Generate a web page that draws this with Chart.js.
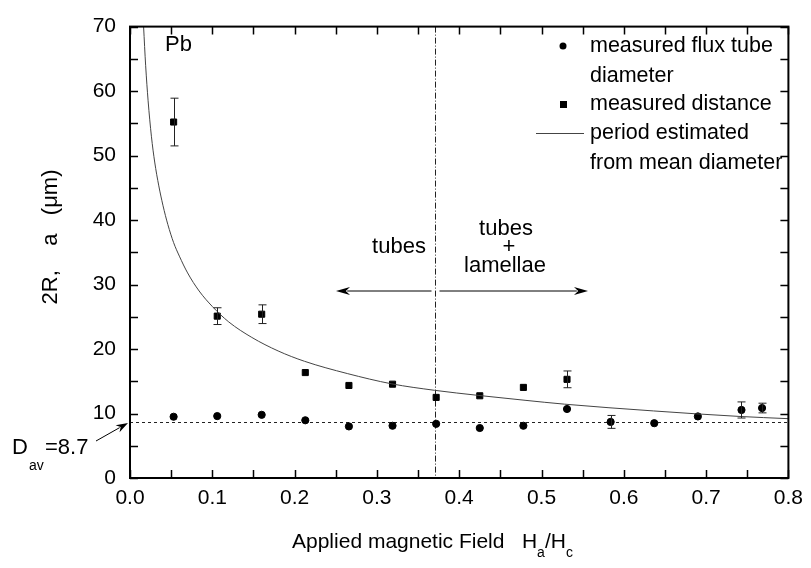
<!DOCTYPE html>
<html><head><meta charset="utf-8">
<script src="https://cdn.jsdelivr.net/npm/chart.js@4.4.0/dist/chart.umd.min.js"></script>
<style>html,body{margin:0;padding:0;background:#fff}</style>
</head><body>
<canvas id="c" width="811" height="568" style="width:811px;height:568px"></canvas>
<script>
// ---- data ----
const diamX = [0.053, 0.106, 0.160, 0.213, 0.266, 0.319, 0.372, 0.425, 0.478, 0.531, 0.584, 0.637, 0.690, 0.743, 0.768];
const diameter = [9.5, 9.6, 9.8, 8.95, 8.0, 8.1, 8.4, 7.75, 8.1, 10.7, 8.7, 8.5, 9.55, 10.55, 10.85];
const diameterErr = [0, 0, 0, 0, 0, 0, 0, 0, 0, 0, 1.0, 0, 0, 1.25, 0.75];
const distX = [0.053, 0.106, 0.160, 0.213, 0.266, 0.319, 0.372, 0.425, 0.478, 0.531];
const distance = [55.2, 25.1, 25.4, 16.35, 14.35, 14.55, 12.5, 12.75, 14.05, 15.3];
const distanceErr = [3.7, 1.3, 1.45, 0, 0, 0, 0, 0, 0, 1.3];
const curveX = [0.0165, 0.019, 0.022, 0.026, 0.030, 0.035, 0.040, 0.046, 0.053, 0.060, 0.070, 0.084, 0.100, 0.120, 0.148, 0.180, 0.212, 0.264, 0.318, 0.370, 0.424, 0.480, 0.528, 0.636, 0.740, 0.800];
const curveY = [70, 64, 58.5, 53, 49, 45.3, 42.3, 39.3, 36.5, 34.4, 31.8, 29.0, 26.6, 24.2, 21.8, 19.7, 18.1, 16.2, 14.6, 13.6, 12.8, 12.05, 11.45, 10.4, 9.55, 9.2];
const dAv = 8.7;
const boundaryX = 0.37;
const xMin = 0, xMax = 0.8, xStep = 0.1, xMinor = 0.05;
const yMin = 0, yMax = 70, yStep = 10, yMinor = 5;
const legendLabels = [["measured flux tube", "diameter"], ["measured distance"], ["period estimated", "from mean diameter"]];

const FONT = '"Liberation Sans", Arial, sans-serif';
const toXY = (xs, ys) => xs.map((x, i) => ({x: x, y: ys[i]}));

function arrow(ctx, x1, y1, x2, y2, head, half) {
  const a = Math.atan2(y2 - y1, x2 - x1);
  ctx.beginPath(); ctx.moveTo(x1, y1);
  ctx.lineTo(x2 - Math.cos(a) * head * 0.8, y2 - Math.sin(a) * head * 0.8); ctx.stroke();
  ctx.beginPath(); ctx.moveTo(x2, y2);
  ctx.lineTo(x2 - head * Math.cos(a) + half * Math.sin(a), y2 - head * Math.sin(a) - half * Math.cos(a));
  ctx.lineTo(x2 - head * Math.cos(a) * 0.7, y2 - head * Math.sin(a) * 0.7);
  ctx.lineTo(x2 - head * Math.cos(a) - half * Math.sin(a), y2 - head * Math.sin(a) + half * Math.cos(a));
  ctx.closePath(); ctx.fill();
}
function xb(x) { return Math.round(x.getPixelForValue(boundaryX)) + 0.5; }

const decor = {
  id: 'decor',
  beforeDatasetsDraw(chart) {
    const {ctx, chartArea: ca, scales: {x, y}} = chart;
    ctx.save();
    ctx.strokeStyle = '#222'; ctx.lineWidth = 1;
    ctx.setLineDash([3, 3]);
    const yd = Math.round(y.getPixelForValue(dAv)) + 0.5;
    ctx.beginPath(); ctx.moveTo(ca.left, yd); ctx.lineTo(ca.right, yd); ctx.stroke();
    ctx.setLineDash([6, 2, 1, 2]);
    ctx.beginPath(); ctx.moveTo(xb(x), ca.top); ctx.lineTo(xb(x), ca.bottom); ctx.stroke();
    ctx.restore();
  },
  afterDatasetsDraw(chart) {
    const {ctx, chartArea: ca, scales: {x, y}} = chart;
    ctx.save();
    // error bars
    ctx.strokeStyle = '#222'; ctx.lineWidth = 1;
    const bars = (xs, ys, es) => xs.forEach((xv, i) => {
      if (!es[i]) return;
      const px = Math.round(x.getPixelForValue(xv)) + 0.5;
      const t = y.getPixelForValue(ys[i] + es[i]), b = y.getPixelForValue(ys[i] - es[i]);
      ctx.beginPath();
      ctx.moveTo(px, t); ctx.lineTo(px, b);
      ctx.moveTo(px - 4, t); ctx.lineTo(px + 4, t);
      ctx.moveTo(px - 4, b); ctx.lineTo(px + 4, b);
      ctx.stroke();
    });
    bars(diamX, diameter, diameterErr);
    bars(distX, distance, distanceErr);
    // frame
    ctx.strokeStyle = '#000'; ctx.lineWidth = 2;
    ctx.strokeRect(ca.left, ca.top, ca.right - ca.left, ca.bottom - ca.top);
    // inward ticks
    ctx.lineWidth = 1.5;
    ctx.beginPath();
    for (let v = xMin; v <= xMax + 1e-9; v += xMinor) {
      const px = Math.round(x.getPixelForValue(v)) + 0.5;
      ctx.moveTo(px, ca.bottom); ctx.lineTo(px, ca.bottom - 8);
      ctx.moveTo(px, ca.top); ctx.lineTo(px, ca.top + 8);
    }
    for (let v = yMin; v <= yMax + 1e-9; v += yMinor) {
      const py = Math.round(y.getPixelForValue(v)) + 0.5;
      ctx.moveTo(ca.left, py); ctx.lineTo(ca.left + 8, py);
      ctx.moveTo(ca.right, py); ctx.lineTo(ca.right - 8, py);
    }
    ctx.stroke();

    // texts
    ctx.fillStyle = '#000'; ctx.strokeStyle = '#000';
    ctx.textBaseline = 'middle';
    ctx.font = '22px ' + FONT;
    ctx.textAlign = 'left';
    ctx.fillText('Pb', 165, 45);
    ctx.textAlign = 'center';
    ctx.fillText('tubes', 399, 247);
    ctx.fillText('tubes', 506, 229);
    ctx.fillText('+', 509, 247);
    ctx.fillText('lamellae', 505, 266);
    ctx.lineWidth = 1;
    arrow(ctx, xb(x) - 4, 291, 336, 291, 14, 4);
    arrow(ctx, xb(x) + 4, 291, 588, 291, 14, 4);

    // legend
    ctx.font = '21.5px ' + FONT;
    ctx.textAlign = 'left';
    const lx = 590;
    ctx.fillText(legendLabels[0][0], lx, 46);
    ctx.fillText(legendLabels[0][1], lx, 76);
    ctx.fillText(legendLabels[1][0], lx, 104);
    ctx.fillText(legendLabels[2][0], lx, 133);
    ctx.fillText(legendLabels[2][1], lx, 163);
    ctx.beginPath(); ctx.arc(563, 46, 3.5, 0, Math.PI * 2); ctx.fill();
    ctx.fillRect(560, 101, 7, 7);
    ctx.strokeStyle = '#444';
    ctx.beginPath(); ctx.moveTo(536, 133.5); ctx.lineTo(584, 133.5); ctx.stroke();

    // D_av label
    ctx.strokeStyle = '#000';
    ctx.font = '22px ' + FONT;
    ctx.fillText('D', 12, 448);
    ctx.font = '14px ' + FONT;
    ctx.fillText('av', 29, 466);
    ctx.font = '22px ' + FONT;
    ctx.fillText('=8.7', 45, 448);
    arrow(ctx, 96, 441, 128, y.getPixelForValue(dAv) + 1, 12, 4);

    // axis titles
    ctx.font = '21px ' + FONT;
    ctx.textAlign = 'left';
    const tx = 292, ty = 542;
    ctx.fillText('Applied magnetic Field   H', tx, ty);
    let w = ctx.measureText('Applied magnetic Field   H').width;
    ctx.font = '14px ' + FONT;
    ctx.fillText('a', tx + w, ty + 11);
    let w2 = ctx.measureText('a').width;
    ctx.font = '21px ' + FONT;
    ctx.fillText('/H', tx + w + w2, ty);
    let w3 = ctx.measureText('/H').width;
    ctx.font = '14px ' + FONT;
    ctx.fillText('c', tx + w + w2 + w3, ty + 11);

    ctx.font = '22px ' + FONT;
    ctx.translate(51, 237);
    ctx.rotate(-Math.PI / 2);
    ctx.textAlign = 'center';
    ctx.fillText('2R,    a   (\u03BCm)', 0, 0);
    ctx.restore();
  }
};

new Chart(document.getElementById('c'), {
  type: 'scatter',
  data: {
    datasets: [
      {label: 'period estimated from mean diameter', data: toXY(curveX, curveY), showLine: true, borderColor: '#444', borderWidth: 1, pointRadius: 0, cubicInterpolationMode: 'monotone', fill: false},
      {label: 'measured flux tube diameter', data: toXY(diamX, diameter), pointStyle: 'circle', pointRadius: 3.6, backgroundColor: '#000', borderColor: '#000', borderWidth: 1},
      {label: 'measured distance', data: toXY(distX, distance), pointStyle: 'rect', pointRadius: 4.3, backgroundColor: '#000', borderColor: '#000', borderWidth: 1}
    ]
  },
  options: {
    responsive: false, animation: false, devicePixelRatio: 1,
    layout: {padding: {left: 0, right: 14, top: 12, bottom: 0}},
    plugins: {legend: {display: false}, tooltip: {enabled: false}},
    scales: {
      x: {type: 'linear', min: xMin, max: xMax,
          ticks: {stepSize: xStep, callback: v => v.toFixed(1), color: '#000', font: {family: FONT, size: 21}, padding: 8, maxRotation: 0, autoSkip: false},
          grid: {display: false, drawTicks: false}, border: {display: false},
          afterFit: s => { s.height = 90; }},
      y: {type: 'linear', min: yMin, max: yMax,
          ticks: {stepSize: yStep, color: '#000', font: {family: FONT, size: 21}, padding: 14},
          grid: {display: false, drawTicks: false}, border: {display: false},
          afterFit: s => { s.width = 130; }}
    }
  },
  plugins: [decor]
});
</script>
</body></html>
